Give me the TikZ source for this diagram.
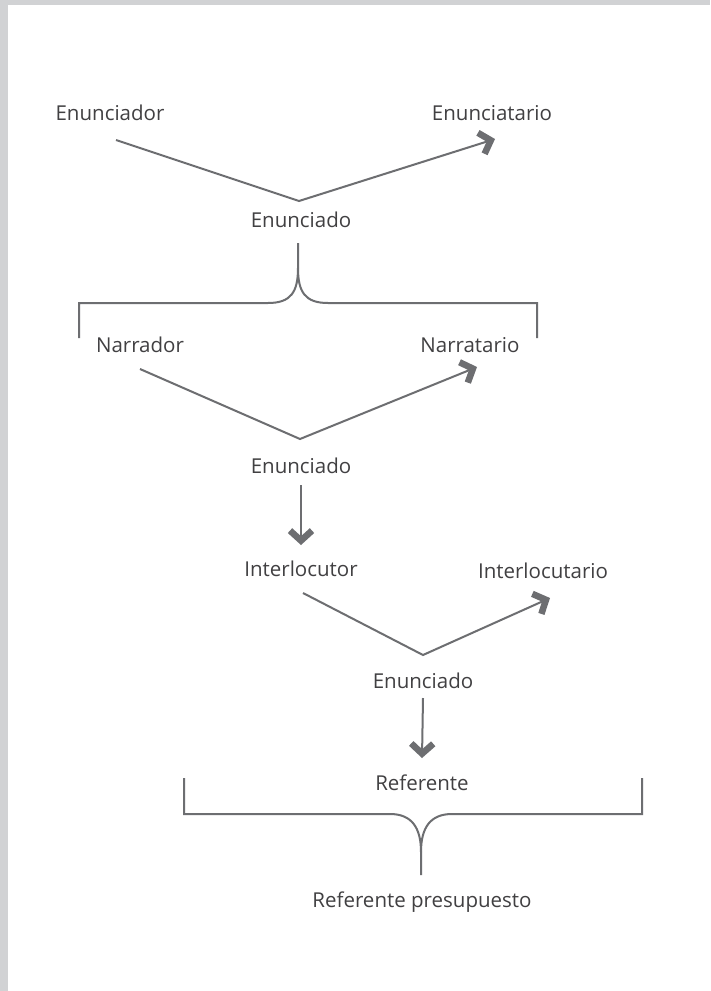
\documentclass[tikz,border=0pt]{standalone}
\usepackage{fontspec}
\setmainfont{Open Sans}
\usetikzlibrary{arrows.meta}

\definecolor{linegray}{HTML}{6D6E71}
\definecolor{textgray}{HTML}{414042}
\definecolor{framegray}{HTML}{D1D2D4}

\begin{document}
\begin{tikzpicture}[x=1pt,y=-1pt,line width=2pt,color=linegray,
tip/.style={-{Straight Barb[length=10pt,width=22pt,line width=6.5pt]}},
lbl/.style={anchor=base,inner sep=0pt,text=textgray,font=\fontsize{20.5}{24}\selectfont}]
% frame
\fill [framegray] (0,0) rectangle (710,991);
\fill [white] (8,5) rectangle (710,991);
\useasboundingbox (0,0) rectangle (710,991);

% labels
\node [lbl] (enunciador) at (110,120) {Enunciador};
\node [lbl] (enunciatario) at (492,120) {Enunciatario};
\node [lbl] (enunciado1) at (301,227) {Enunciado};
\node [lbl] (narrador) at (140,352) {Narrador};
\node [lbl] (narratario) at (470,352) {Narratario};
\node [lbl] (enunciado2) at (301,473) {Enunciado};
\node [lbl] (interlocutor) at (301,576) {Interlocutor};
\node [lbl] (interlocutario) at (543,578) {Interlocutario};
\node [lbl] (enunciado3) at (423,688) {Enunciado};
\node [lbl] (referente) at (422,790) {Referente};
\node [lbl] (presupuesto) at (422,907) {Referente presupuesto};

% ends of the lines
\coordinate (v1a) at (116,140);
\coordinate (v1) at (299,201);
\coordinate (v1b) at (495,139);
\coordinate (v2a) at (140,369);
\coordinate (v2) at (300,439);
\coordinate (v2b) at (477,367);
\coordinate (v3a) at (303,593);
\coordinate (v3) at (423,655);
\coordinate (v3b) at (550,598);

\draw [tip] (v1a) -- (v1) -- (v1b);
\draw [tip] (v2a) -- (v2) -- (v2b);
\draw [tip] (v3a) -- (v3) -- (v3b);

\draw [tip] ([yshift=-12pt]enunciado2.base) -- ([yshift=31pt]interlocutor.base);
\draw [tip] ([yshift=-10pt]enunciado3.base) -- ([yshift=32pt]referente.base);

% braces
\coordinate (b1) at (298,243);
\draw (79,338) -- (79,303) -- (268,303) .. controls (291,303) and (298,292) .. (298,268) -- (b1);
\draw (537,338) -- (537,303) -- (328,303) .. controls (305,303) and (298,292) .. (298,268);

\coordinate (b2) at (421,875);
\draw (184,778) -- (184,814) -- (390,814) .. controls (412,814) and (421,828) .. (421,852) -- (b2);
\draw (642,778) -- (642,814) -- (452,814) .. controls (430,814) and (421,828) .. (421,852);

\end{tikzpicture}
\end{document}
